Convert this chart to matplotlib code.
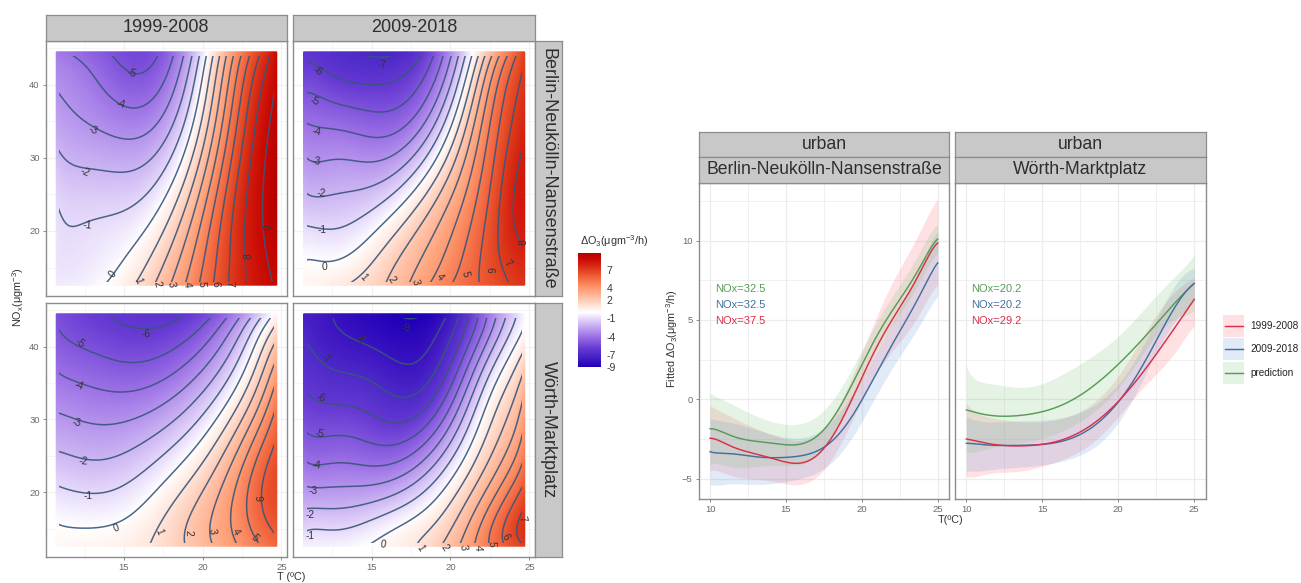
import numpy as np
import matplotlib
matplotlib.use("Agg")
import matplotlib.pyplot as plt
from numpy.polynomial import chebyshev as C
from matplotlib.colors import LinearSegmentedColormap, Normalize
from matplotlib.cm import ScalarMappable
from matplotlib.patches import Rectangle
from matplotlib.lines import Line2D
from matplotlib.ticker import FixedLocator

plt.rcParams['font.family'] = ['Liberation Sans', 'DejaVu Sans']
plt.rcParams['mathtext.fontset'] = 'custom'
plt.rcParams['mathtext.rm'] = 'Liberation Sans'
plt.rcParams['mathtext.it'] = 'Liberation Sans'
plt.rcParams['mathtext.bf'] = 'Liberation Sans'
plt.rcParams['mathtext.default'] = 'regular'

# ---------------- data: contour panels ----------------
T_GRID = [10.7, 12, 13.5, 15, 16.5, 18, 19, 20, 21, 22, 23, 24, 24.7]
NOX_GRID = [12.6, 16, 20, 24, 28, 32, 36, 40, 44.5]

Z_BERLIN_1999 = [
    [-0.5, -0.4, -0.1, 0.6, 1.6, 3.1, 4.1, 5.3, 6.3, 7.4, 8.2, 8.8, 9.1],
    [-0.7, -0.7, -0.5, 0.1, 0.9, 2.4, 3.6, 5.0, 6.2, 7.3, 8.2, 9.0, 9.2],
    [-0.85, -0.97, -0.95, -0.5, 0.2, 1.5, 2.7, 4.4, 6.0, 7.2, 8.3, 9.2, 9.5],
    [-0.9, -1.2, -1.3, -1.15, -0.75, 0.55, 2.0, 3.7, 5.3, 7.0, 8.1, 9.2, 9.6],
    [-1.55, -1.9, -2.0, -1.95, -1.6, -0.5, 1.0, 2.8, 4.7, 6.5, 8.0, 9.2, 9.6],
    [-2.05, -2.45, -2.75, -2.85, -2.6, -1.6, -0.3, 2.0, 4.2, 6.2, 7.7, 9.0, 9.5],
    [-2.6, -2.95, -3.45, -3.75, -3.5, -2.4, -1.1, 1.0, 3.2, 5.2, 7.0, 8.9, 9.2],
    [-3.1, -3.4, -4.1, -4.55, -4.5, -3.5, -2.1, 0.5, 2.8, 4.8, 6.8, 8.4, 9.1],
    [-3.65, -4.2, -4.8, -5.35, -5.35, -4.2, -2.9, -0.5, 1.7, 4.0, 5.8, 7.6, 8.7],
]
Z_BERLIN_2009 = [
    [0.35, 0.5, 1.0, 1.6, 2.4, 3.5, 4.3, 4.95, 5.6, 6.1, 6.6, 7.15, 7.4],
    [0.05, 0.02, 0.1, 0.95, 1.8, 2.9, 3.7, 4.45, 5.2, 6.0, 6.95, 7.5, 7.8],
    [-0.9, -1.0, -0.75, -0.2, 1.0, 2.1, 2.9, 3.9, 5.0, 5.9, 7.0, 7.9, 8.1],
    [-1.65, -1.8, -1.75, -1.3, -0.5, 1.0, 1.9, 3.0, 4.2, 5.5, 6.7, 8.1, 8.4],
    [-2.45, -2.6, -2.7, -2.55, -2.0, -0.9, 0.6, 2.1, 3.5, 5.0, 6.3, 8.0, 8.2],
    [-3.35, -3.5, -3.65, -3.7, -3.4, -2.4, -1.2, 1.0, 3.0, 4.5, 6.0, 7.6, 8.0],
    [-4.3, -4.45, -4.7, -4.9, -4.75, -3.6, -2.75, -1.0, 1.8, 3.6, 5.4, 7.2, 7.7],
    [-5.25, -5.5, -5.85, -6.05, -5.9, -5.0, -3.7, -2.5, 1.0, 2.8, 4.8, 6.8, 7.3],
    [-6.2, -6.55, -6.85, -7.2, -7.1, -6.2, -5.1, -3.2, -1.0, 1.45, 3.5, 5.6, 7.0],
]
Z_WOERTH_1999 = [
    [0.25, 0.3, 0.4, 0.6, 0.95, 1.55, 2.05, 2.6, 3.2, 3.8, 4.55, 5.2, 5.7],
    [0.0, -0.15, -0.2, 0.05, 0.6, 1.35, 2.0, 2.7, 3.45, 4.25, 5.1, 6.0, 6.4],
    [-0.85, -0.97, -1.0, -0.75, -0.25, 0.55, 1.25, 1.95, 2.8, 4.0, 5.0, 6.3, 6.6],
    [-1.65, -1.85, -1.9, -1.75, -1.1, -0.35, 0.1, 1.1, 2.1, 3.2, 4.6, 5.85, 6.4],
    [-2.4, -2.6, -2.75, -2.6, -2.2, -1.55, -0.85, -0.2, 1.05, 2.0, 3.3, 5.0, 6.0],
    [-3.2, -3.4, -3.55, -3.6, -3.3, -2.7, -2.3, -1.5, -0.6, 0.6, 2.1, 3.8, 5.1],
    [-3.9, -4.15, -4.4, -4.5, -4.45, -4.0, -3.4, -2.7, -1.7, -0.7, 0.75, 2.4, 3.6],
    [-4.55, -4.95, -5.3, -5.45, -5.45, -5.2, -4.7, -4.0, -3.1, -2.0, -0.4, 1.3, 2.5],
    [-5.2, -5.6, -5.95, -6.15, -6.3, -6.25, -6.05, -5.45, -4.8, -3.7, -2.3, -0.85, 0.4],
]
Z_WOERTH_2009 = [
    [-0.4, -0.35, -0.25, 0.05, 0.55, 1.1, 1.75, 2.5, 3.4, 4.5, 5.55, 6.45, 7.05],
    [-1.45, -1.4, -1.2, -0.95, -0.45, 0.2, 0.7, 1.7, 2.9, 4.1, 5.4, 6.7, 7.3],
    [-2.75, -2.8, -2.85, -2.65, -1.9, -0.85, -0.25, 0.5, 1.65, 2.8, 4.0, 5.55, 6.6],
    [-3.85, -3.95, -4.05, -4.05, -4.05, -3.6, -2.0, -0.8, 0.2, 1.2, 2.6, 4.0, 5.2],
    [-4.85, -5.05, -5.2, -5.25, -5.3, -5.2, -4.2, -2.2, -0.5, 0.8, 2.0, 3.4, 4.3],
    [-5.75, -5.9, -6.1, -6.3, -6.5, -6.45, -5.4, -4.0, -2.0, -0.6, 0.7, 2.15, 3.3],
    [-6.3, -6.7, -6.95, -7.25, -7.6, -7.6, -6.9, -5.8, -3.8, -2.0, -0.3, 1.3, 2.5],
    [-6.85, -7.4, -7.75, -7.95, -8.35, -8.35, -7.8, -6.6, -5.0, -3.2, -1.4, -0.1, 0.8],
    [-7.6, -7.8, -8.3, -8.6, -8.95, -9.15, -8.6, -7.8, -6.35, -4.65, -2.85, -1.3, -0.1],
]
CONTOUR_LEVELS = list(range(-9, 10))
COLORBAR_TICKS = [7, 4, 2, -1, -4, -7, -9]
PERIODS = ['1999-2008', '2009-2018']
STATIONS = ['Berlin-Neukölln-Nansenstraße', 'Wörth-Marktplatz']

# ---------------- data: fitted curves ----------------
T_FIT = list(range(10, 26))
B_GREEN = [-1.85, -2.15, -2.45, -2.65, -2.78, -2.85, -2.8, -2.35, -1.3, 0.2, 2.3, 4.0, 5.5, 7.1, 8.6, 10.1]
B_GREEN_HI = [0.4, -0.1, -0.6, -1.0, -1.4, -1.6, -1.5, -1.1, -0.1, 1.2, 3.2, 4.9, 6.4, 8.0, 9.6, 11.0]
B_GREEN_LO = [-4.1, -4.2, -4.25, -4.3, -4.2, -4.1, -4.1, -3.6, -2.5, -0.8, 1.3, 3.1, 4.6, 6.2, 7.7, 9.2]
B_RED = [-2.45, -2.8, -3.15, -3.45, -3.72, -3.93, -4.0, -3.55, -2.5, -0.65, 1.4, 3.3, 5.0, 6.6, 8.3, 9.85]
B_RED_HI = [-0.4, -0.9, -1.4, -1.8, -2.2, -2.5, -2.6, -2.2, -1.2, 0.6, 2.9, 5.3, 7.3, 9.1, 10.9, 12.6]
B_RED_LO = [-4.5, -4.7, -4.9, -5.05, -5.2, -5.3, -5.3, -4.9, -3.9, -2.0, 0.0, 1.6, 3.0, 4.3, 5.7, 7.2]
B_BLUE = [-3.3, -3.4, -3.5, -3.6, -3.7, -3.65, -3.55, -3.25, -2.75, -1.45, -0.1, 1.7, 3.5, 5.1, 6.9, 8.6]
B_BLUE_HI = [-1.2, -1.4, -1.6, -1.9, -2.2, -2.4, -2.4, -2.1, -1.5, -0.1, 1.3, 3.0, 4.8, 6.6, 8.7, 10.6]
B_BLUE_LO = [-5.35, -5.35, -5.35, -5.35, -5.3, -5.2, -5.0, -4.6, -4.0, -2.9, -1.4, 0.3, 2.0, 3.4, 5.0, 6.5]

W_GREEN = [-0.67, -0.92, -1.05, -1.05, -0.97, -0.78, -0.46, -0.04, 0.6, 1.3, 2.25, 3.15, 4.2, 5.3, 6.35, 7.3]
W_GREEN_HI = [2.05, 1.1, 0.9, 0.8, 0.8, 1.0, 1.3, 2.05, 2.5, 3.2, 3.9, 5.0, 6.0, 7.0, 8.0, 9.1]
W_GREEN_LO = [-3.3, -3.2, -3.0, -2.8, -2.6, -2.5, -2.2, -1.6, -1.0, -0.4, 0.7, 2.0, 3.4, 4.5, 5.2, 5.6]
W_RED = [-2.5, -2.7, -2.88, -2.92, -2.92, -2.85, -2.63, -2.3, -1.76, -1.05, -0.15, 0.95, 2.2, 3.5, 4.9, 6.3]
W_RED_HI = [-0.25, -1.0, -1.2, -1.4, -1.4, -1.4, -1.3, -1.0, -0.35, 0.15, 1.6, 2.9, 4.5, 6.0, 7.0, 7.7]
W_RED_LO = [-4.87, -4.77, -4.65, -4.55, -4.45, -4.25, -3.9, -3.5, -2.9, -2.25, -1.0, 0.0, 1.1, 2.1, 3.3, 4.6]
W_BLUE = [-2.77, -2.85, -2.9, -2.9, -2.9, -2.85, -2.67, -2.45, -1.95, -1.2, -0.15, 1.15, 2.8, 4.6, 6.2, 7.3]
W_BLUE_HI = [-1.1, -1.4, -1.4, -1.4, -1.35, -1.3, -1.2, -1.0, -0.6, 0.0, 1.0, 2.3, 4.0, 6.0, 7.5, 8.3]
W_BLUE_LO = [-4.5, -4.5, -4.4, -4.3, -4.25, -4.15, -3.95, -3.7, -3.3, -2.6, -1.4, 0.0, 2.0, 3.8, 5.2, 6.2]

B_NOX_LABELS = ['NOx=32.5', 'NOx=32.5', 'NOx=37.5']
W_NOX_LABELS = ['NOx=20.2', 'NOx=20.2', 'NOx=29.2']
SERIES_NAMES = ['1999-2008', '2009-2018', 'prediction']

# ---------------- styles ----------------
W, H = 1301, 583
C_RED, C_BLUE, C_GREEN = '#d9304a', '#44709f', '#569c58'
F_RED, F_BLUE, F_GREEN = '#ff5a6e', '#5b8fd6', '#6abf69'
EDGE = '#8c8c8c'
TICKC = '#6a6a6a'
STRIP = '#c8c8c8'
LINEC = '#38567a'

CMAP_VALUES = [-9, -8, -7, -6, -4, -2, -1, 0, 1, 2, 4, 6, 7, 8, 9, 9.8]
CMAP_COLOURS = ['#2000b8', '#3c14c0', '#4e2ac8', '#6438d2', '#9d72e6', '#cdb6f3', '#e6dafa',
                '#ffffff', '#ffe6dc', '#ffcbb4', '#ff9a70', '#f05f38', '#e0401f', '#d42010',
                '#c80800', '#b40000']
VMIN, VMAX = CMAP_VALUES[0], CMAP_VALUES[-1]
cmap = LinearSegmentedColormap.from_list(
    'do3', [((v - VMIN) / (VMAX - VMIN), c) for v, c in zip(CMAP_VALUES, CMAP_COLOURS)], N=512)
norm = Normalize(VMIN, VMAX)

fig = plt.figure(figsize=(W / 100, H / 100), dpi=100, facecolor='white')


def box(x0, y0, x1, y1, **kw):
    return fig.add_axes([x0 / W, 1 - y1 / H, (x1 - x0) / W, (y1 - y0) / H], **kw)


def strip(x0, y0, x1, y1, label, size=13, rotation=0):
    a = box(x0, y0, x1, y1, facecolor=STRIP)
    a.set_xticks([]); a.set_yticks([])
    for s in a.spines.values():
        s.set_color(EDGE); s.set_linewidth(0.9)
    a.text(0.5, 0.5, label, transform=a.transAxes, ha='center', va='center',
           fontsize=size, rotation=rotation, color='#2e2e2e')
    return a


def style_panel(a, xmaj, xmin, ymaj, ymin, grid='#f1f1f1'):
    a.set_axisbelow(True)
    a.xaxis.set_major_locator(FixedLocator(xmaj))
    a.yaxis.set_major_locator(FixedLocator(ymaj))
    a.xaxis.set_minor_locator(FixedLocator(xmin))
    a.yaxis.set_minor_locator(FixedLocator(ymin))
    a.grid(True, which='major', color=grid, lw=0.9)
    a.grid(True, which='minor', color=grid, lw=0.5)
    a.tick_params(which='minor', length=0)
    a.tick_params(which='major', length=2.5, width=0.7, color=EDGE,
                  labelcolor=TICKC, labelsize=6.8, pad=1.8)
    for s in a.spines.values():
        s.set_color(EDGE); s.set_linewidth(1.0)


def smooth_surface(Z, deg=(7, 5), n=160):
    t, u = np.array(T_GRID), np.array(NOX_GRID)
    sx = lambda v: (v - t.min()) / (t.max() - t.min()) * 2 - 1
    sy = lambda v: (v - u.min()) / (u.max() - u.min()) * 2 - 1
    tm, um = np.meshgrid(t, u)
    A = C.chebvander2d(sx(tm).ravel(), sy(um).ravel(), deg)
    coef = np.linalg.lstsq(A, np.array(Z, float).ravel(), rcond=None)[0]
    tf, uf = np.linspace(t.min(), t.max(), n), np.linspace(u.min(), u.max(), n)
    tfm, ufm = np.meshgrid(tf, uf)
    zf = (C.chebvander2d(sx(tfm).ravel(), sy(ufm).ravel(), deg) @ coef).reshape(tfm.shape)
    return tfm, ufm, zf


def smooth_curve(y, deg=9, n=200):
    xf = np.linspace(T_FIT[0], T_FIT[-1], n)
    return xf, C.Chebyshev.fit(T_FIT, y, deg)(xf)


# ---------------- contour labels: (level, T, NOx, rotation) ----------------
LABELS_TL = [(-5, 15.5, 41.6, -15), (-4, 14.8, 37.4, -15), (-3, 13, 33.8, -25), (-2, 12.5, 28.1, -25),
             (-1, 12.7, 20.7, -5), (0, 14.3, 14.1, 55), (1, 15.9, 13.2, -70), (2, 17.1, 12.7, -75),
             (3, 18, 12.7, -80), (4, 19, 12.7, -85), (5, 19.9, 12.7, -90), (6, 20.8, 12.7, -90),
             (7, 21.7, 12.7, -90), (8, 22.9, 16.5, 90), (9, 24.2, 20.5, 90)]
LABELS_TR = [(-7, 15.7, 42.7, 0), (-6, 11.6, 41.9, -25), (-5, 11.4, 37.7, -15), (-4, 11.5, 33.6, -10),
             (-3, 11.5, 29.5, -5), (-2, 11.8, 25.2, -5), (-1, 11.9, 20.1, 0), (0, 12, 15.1, 0),
             (1, 14.5, 13.7, -50), (2, 16.3, 13.4, -55), (3, 17.8, 13, -75), (4, 19.3, 13.7, -50),
             (5, 20.9, 14.1, -75), (6, 22.5, 14.7, -90), (7, 23.6, 15.6, -50), (8, 24.6, 18.5, 90)]
LABELS_BL = [(-6, 16.4, 41.7, 0), (-5, 12.2, 40.5, -35), (-4, 12.1, 34.6, -20), (-3, 12, 29.5, -10),
             (-2, 12.4, 24.3, -5), (-1, 12.7, 19.5, 0), (0, 14.5, 15.1, 20), (1, 17.2, 14.6, -70),
             (2, 19.1, 14.4, -90), (3, 20.6, 14.6, -80), (4, 22.1, 14.5, -60), (5, 23.3, 13.7, -45),
             (6, 23.7, 19.2, 90)]
LABELS_BR = [(-9, 17.2, 42.5, 0), (-8, 14.3, 41.1, -35), (-7, 12.1, 38.3, -30), (-6, 11.8, 33, -20),
             (-5, 11.7, 28, -10), (-4, 11.5, 23.7, -5), (-3, 11.3, 20.1, 0), (-2, 11.1, 16.9, 0),
             (-1, 11.1, 14, 0), (0, 15.7, 12.8, -10), (1, 18.1, 12.4, -60), (2, 19.6, 12.4, -55),
             (3, 20.8, 12.4, -80), (4, 21.7, 12.4, -90), (5, 22.6, 12.9, -90), (6, 23.5, 13.9, -60),
             (7, 24.5, 16.3, -75)]

PANELS = [
    (45.7, 41, 287, 296, Z_BERLIN_1999, LABELS_TL, False, True),
    (293, 41, 535, 296, Z_BERLIN_2009, LABELS_TR, False, False),
    (45.7, 303, 287, 557, Z_WOERTH_1999, LABELS_BL, True, True),
    (293, 303, 535, 557, Z_WOERTH_2009, LABELS_BR, True, False),
]

for x0, y0, x1, y1, Z, labels, show_x, show_y in PANELS:
    a = box(x0, y0, x1, y1, facecolor='white')
    style_panel(a, [15, 20, 25], [12.5, 17.5, 22.5], [20, 30, 40], [15, 25, 35, 45])
    a.tick_params(labelbottom=show_x, labelleft=show_y, bottom=show_x, left=show_y)
    tf, uf, zf = smooth_surface(Z)
    a.pcolormesh(tf, uf, zf, shading='gouraud', cmap=cmap, norm=norm, zorder=2)
    cs = a.contour(tf, uf, zf, levels=CONTOUR_LEVELS, colors=LINEC, linewidths=1.1,
                   linestyles='solid', alpha=0.9, zorder=3)
    cs.set_clip_path(Rectangle((10.9, 13.0), 24.5 - 10.9, 44.0 - 13.0, transform=a.transData))
    for level, tx, ny, rot in labels:
        a.text(tx, ny, str(level), rotation=rot, rotation_mode='anchor', ha='center', va='center',
               fontsize=7.4, color='#33333a', zorder=4)
    a.set_xlim(10.03, 25.35)
    a.set_ylim(11.1, 46.0)

strip(45.7, 15, 287, 41, PERIODS[0])
strip(293, 15, 535, 41, PERIODS[1])
strip(535, 41, 561.7, 296, STATIONS[0], rotation=-90)
strip(535, 303, 561.7, 557, STATIONS[1], rotation=-90)

# ---------------- colour bar ----------------
cax = box(578, 253.3, 600.7, 366.7)
cb = fig.colorbar(ScalarMappable(norm=norm, cmap=cmap), cax=cax)
cb.set_ticks(COLORBAR_TICKS)
cb.set_ticklabels([str(t) for t in COLORBAR_TICKS])
cb.outline.set_visible(False)
cax.tick_params(length=0, labelsize=7.6, labelcolor='#3a3a3a', pad=4.5)

# ---------------- fitted curve panels ----------------
FITS = [
    (698.7, 949.3, STATIONS[0], B_NOX_LABELS, True,
     (B_RED, B_RED_LO, B_RED_HI), (B_BLUE, B_BLUE_LO, B_BLUE_HI), (B_GREEN, B_GREEN_LO, B_GREEN_HI)),
    (955, 1205.7, STATIONS[1], W_NOX_LABELS, False,
     (W_RED, W_RED_LO, W_RED_HI), (W_BLUE, W_BLUE_LO, W_BLUE_HI), (W_GREEN, W_GREEN_LO, W_GREEN_HI)),
]
for x0, x1, station, nox, show_y, red, blue, green in FITS:
    a = box(x0, 182.7, x1, 499, facecolor='white')
    a.set_xlim(9.25, 25.76)
    a.set_ylim(-6.28, 13.65)
    style_panel(a, [10, 15, 20, 25], [12.5, 17.5, 22.5], [-5, 0, 5, 10], [-2.5, 2.5, 7.5, 12.5],
                grid='#ececec')
    a.tick_params(labelleft=show_y, left=show_y)
    for (m, lo, hi), f in zip((red, blue, green), (F_RED, F_BLUE, F_GREEN)):
        xf, lof = smooth_curve(lo)
        _, hif = smooth_curve(hi)
        a.fill_between(xf, lof, hif, color=f, alpha=0.18, lw=0, zorder=2)
    for (m, lo, hi), c in zip((green, blue, red), (C_GREEN, C_BLUE, C_RED)):
        a.plot(*smooth_curve(m), color=c, lw=1.05, zorder=3)
    for label, c, yp in zip(nox, (C_GREEN, C_BLUE, C_RED), (0.664, 0.613, 0.563)):
        a.text(0.066, yp, label, transform=a.transAxes, color=c, fontsize=8, ha='left', va='center')
    strip(x0, 131.7, x1, 156.7, 'urban', size=12.7)
    strip(x0, 156.7, x1, 182.7, station, size=12.7)

# ---------------- loose text and legend (pixel overlay) ----------------
ov = fig.add_axes([0, 0, 1, 1], facecolor='none')
ov.set_xlim(0, W); ov.set_ylim(H, 0); ov.axis('off')
ov.text(18.5, 297, r'$NO_x(μgm^{-3})$', rotation=90, ha='center', va='center',
        fontsize=7.8, color='#333333')
ov.text(291, 576.5, 'T (ºC)', ha='center', va='center', fontsize=7.8, color='#333333')
ov.text(614, 240.7, r'$\Delta O_3(μgm^{-3}/h)$', ha='center', va='center', fontsize=7.8, color='#333333')
ov.text(672, 339, r'Fitted $\Delta O_3(μgm^{-3}/h)$', rotation=90, ha='center', va='center',
        fontsize=7.8, color='#333333')
ov.text(951, 520, 'T(ºC)', ha='center', va='center', fontsize=7.8, color='#333333')

for name, c, f, yc in zip(SERIES_NAMES, (C_RED, C_BLUE, C_GREEN), (F_RED, F_BLUE, F_GREEN),
                          (326, 349.3, 372.7)):
    ov.add_patch(Rectangle((1223, yc - 11), 21, 22, facecolor=f, alpha=0.18, lw=0))
    ov.add_line(Line2D([1225, 1243], [yc, yc], color=c, lw=1.05))
    ov.text(1250.7, yc, name, ha='left', va='center', fontsize=7.2, color='#222222')

fig.savefig('out.png', dpi=100, facecolor='white')
